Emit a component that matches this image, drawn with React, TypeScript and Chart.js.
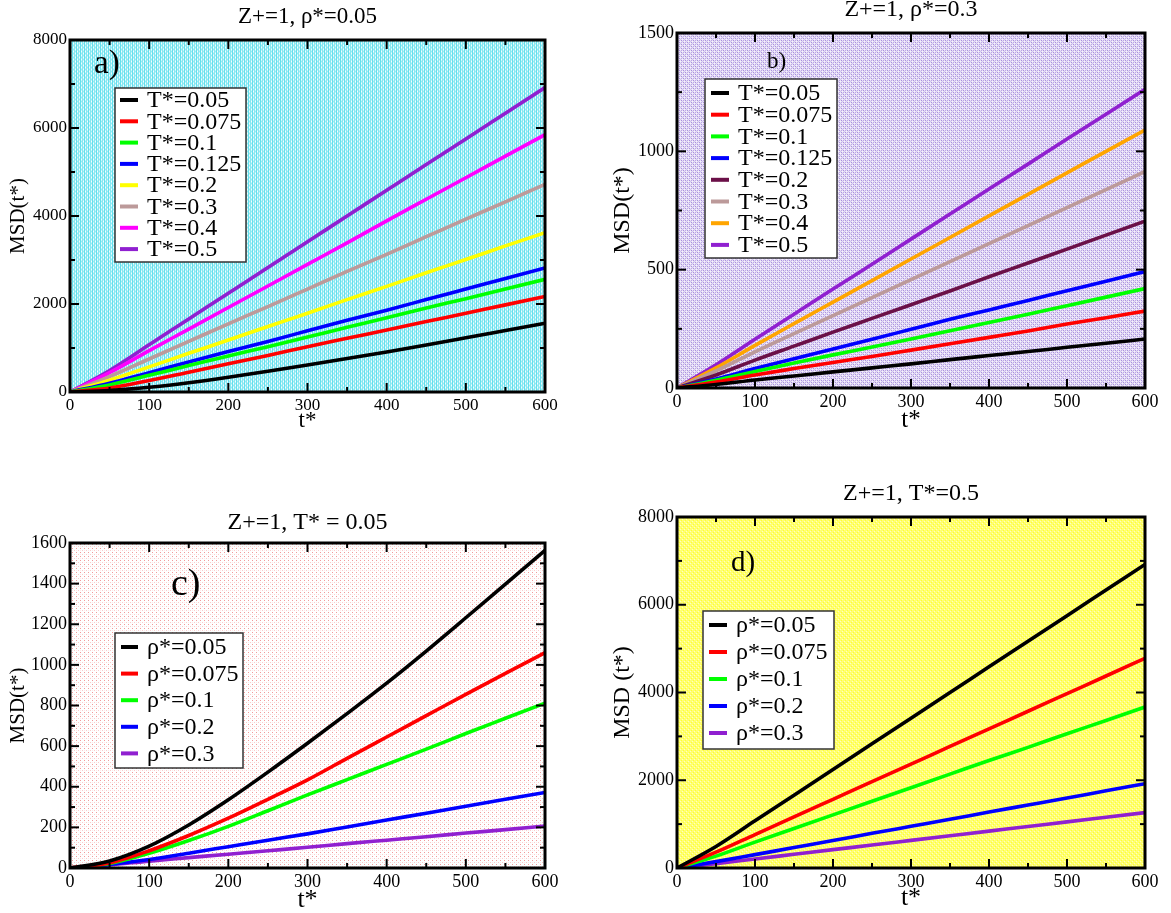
import { useEffect, useRef } from "react";
import { Chart, registerables } from "chart.js";
Chart.register(...registerables);

const SERIF = '"Liberation Serif", "Times New Roman", serif';

// ---------- data ----------
const T_STAR = [0, 50, 100, 150, 200, 250, 300, 350, 400, 450, 500, 550, 600];

const LABELS_T = ["T*=0.05", "T*=0.075", "T*=0.1", "T*=0.125", "T*=0.2", "T*=0.3", "T*=0.4", "T*=0.5"];
const LABELS_RHO = ["ρ*=0.05", "ρ*=0.075", "ρ*=0.1", "ρ*=0.2", "ρ*=0.3"];

// a) rho*=0.05
const A_T005 = [0, 35, 108, 212, 336, 472, 614, 760, 910, 1068, 1232, 1398, 1564];
const A_T0075 = [0, 90, 260, 450, 640, 830, 1030, 1220, 1410, 1600, 1790, 1980, 2170];
const A_T01 = [0, 160, 380, 600, 820, 1030, 1250, 1470, 1690, 1910, 2120, 2340, 2560];
const A_T0125 = [0, 200, 440, 680, 920, 1150, 1390, 1630, 1860, 2100, 2340, 2580, 2820];
const A_T02 = [0, 270, 570, 880, 1180, 1490, 1790, 2100, 2400, 2710, 3010, 3320, 3620];
const A_T03 = [0, 350, 750, 1150, 1550, 1940, 2340, 2740, 3130, 3530, 3930, 4320, 4720];
const A_T04 = [0, 440, 940, 1430, 1920, 2410, 2900, 3390, 3890, 4380, 4870, 5360, 5850];
const A_T05 = [0, 490, 1075, 1660, 2245, 2830, 3415, 4000, 4585, 5170, 5750, 6335, 6920];

// b) rho*=0.3
const B_T005 = [0, 15, 34, 51, 68, 85, 102, 120, 137, 154, 172, 189, 207];
const B_T0075 = [0, 25, 55, 82, 108, 133, 160, 187, 214, 241, 270, 297, 325];
const B_T01 = [0, 33, 70, 106, 140, 173, 207, 242, 277, 312, 348, 384, 420];
const B_T0125 = [0, 38, 82, 124, 165, 206, 248, 290, 330, 370, 411, 451, 492];
const B_T02 = [0, 55, 118, 177, 236, 294, 352, 410, 470, 528, 587, 646, 705];
const B_T03 = [0, 72, 153, 230, 306, 382, 458, 534, 610, 686, 762, 838, 915];
const B_T04 = [0, 85, 180, 272, 363, 454, 545, 636, 727, 818, 909, 1000, 1090];
const B_T05 = [0, 98, 206, 312, 418, 523, 629, 735, 841, 946, 1052, 1157, 1262];

// c) T*=0.05
const C_R005 = [0, 35, 108, 212, 336, 472, 614, 760, 910, 1068, 1232, 1398, 1564];
const C_R0075 = [0, 25, 85, 160, 245, 338, 434, 540, 645, 750, 855, 958, 1060];
const C_R01 = [0, 22, 72, 135, 205, 282, 360, 435, 510, 585, 662, 737, 812];
const C_R02 = [0, 18, 42, 73, 105, 137, 168, 202, 236, 270, 304, 338, 372];
const C_R03 = [0, 15, 34, 51, 68, 85, 102, 120, 137, 154, 172, 189, 207];

// d) T*=0.5
const D_R005 = [0, 490, 1075, 1660, 2245, 2830, 3415, 4000, 4585, 5170, 5750, 6335, 6920];
const D_R0075 = [0, 360, 763, 1165, 1566, 1967, 2369, 2770, 3172, 3573, 3975, 4376, 4780];
const D_R01 = [0, 270, 590, 900, 1210, 1520, 1830, 2140, 2450, 2750, 3060, 3360, 3670];
const D_R02 = [0, 145, 305, 465, 625, 790, 950, 1110, 1275, 1435, 1595, 1760, 1920];
const D_R03 = [0, 98, 206, 312, 418, 523, 629, 735, 841, 946, 1052, 1157, 1262];

const COLORS_A = ["#000000", "#ff0000", "#00ff00", "#0000ff", "#ffff00", "#bc9a9a", "#ff00ff", "#9020d0"];
const COLORS_B = ["#000000", "#ff0000", "#00ff00", "#0000ff", "#6b1048", "#bc9a9a", "#ffa500", "#9020d0"];
const COLORS_CD = ["#000000", "#ff0000", "#00ff00", "#0000ff", "#9020d0"];

// ---------- panel layout / style ----------
type PanelCfg = {
  left: number; top: number; w: number; h: number;
  area: { l: number; r: number; t: number; b: number };
  yMax: number; yStep: number;
  title: string; titleY: number; titleSize: number;
  letter: string; letterX: number; letterY: number; letterSize: number;
  legend: { x: number; y: number; w: number; h: number; row0: number; step: number; lx0: number; lx1: number; tx: number; size: number };
  ylabel: string; ylabelX: number; ylabelSize: number;
  xlabelY: number; xlabelSize: number;
  tickSize: number;
  bg: string;
  series: number[][]; labels: string[]; colors: string[];
};

const PANELS: PanelCfg[] = [
  {
    left: 0, top: 0, w: 585, h: 460,
    area: { l: 70, r: 545, t: 40, b: 392 },
    yMax: 8000, yStep: 2000,
    title: "Z+=1, ρ*=0.05", titleY: 17, titleSize: 23,
    letter: "a)", letterX: 94, letterY: 64, letterSize: 33,
    legend: { x: 115, y: 88, w: 131, h: 174, row0: 100, step: 21.3, lx0: 120, lx1: 138, tx: 147, size: 24 },
    ylabel: "MSD(t*)", ylabelX: 18, ylabelSize: 21,
    xlabelY: 421, xlabelSize: 23,
    tickSize: 17,
    bg: "a",
    series: [A_T005, A_T0075, A_T01, A_T0125, A_T02, A_T03, A_T04, A_T05], labels: LABELS_T, colors: COLORS_A,
  },
  {
    left: 585, top: 0, w: 586, h: 460,
    area: { l: 92, r: 560, t: 33, b: 388 },
    yMax: 1500, yStep: 500,
    title: "Z+=1, ρ*=0.3", titleY: 10, titleSize: 24,
    letter: "b)", letterX: 182, letterY: 62, letterSize: 23,
    legend: { x: 120, y: 79, w: 132, h: 179, row0: 93, step: 21.7, lx0: 126, lx1: 144, tx: 153, size: 24 },
    ylabel: "MSD(t*)", ylabelX: 38, ylabelSize: 24,
    xlabelY: 420, xlabelSize: 25,
    tickSize: 18,
    bg: "b",
    series: [B_T005, B_T0075, B_T01, B_T0125, B_T02, B_T03, B_T04, B_T05], labels: LABELS_T, colors: COLORS_B,
  },
  {
    left: 0, top: 460, w: 585, h: 453,
    area: { l: 70, r: 545, t: 83, b: 408 },
    yMax: 1600, yStep: 200,
    title: "Z+=1, T* = 0.05", titleY: 63, titleSize: 24,
    letter: "c)", letterX: 171, letterY: 125, letterSize: 38,
    legend: { x: 115, y: 173, w: 128, h: 135, row0: 187, step: 26.6, lx0: 121, lx1: 138, tx: 147, size: 24 },
    ylabel: "MSD(t*)", ylabelX: 18, ylabelSize: 21,
    xlabelY: 440, xlabelSize: 26,
    tickSize: 18,
    bg: "c",
    series: [C_R005, C_R0075, C_R01, C_R02, C_R03], labels: LABELS_RHO, colors: COLORS_CD,
  },
  {
    left: 585, top: 460, w: 586, h: 453,
    area: { l: 92, r: 560, t: 57, b: 408 },
    yMax: 8000, yStep: 2000,
    title: "Z+=1, T*=0.5", titleY: 34, titleSize: 24,
    letter: "d)", letterX: 146, letterY: 103, letterSize: 29,
    legend: { x: 118, y: 151, w: 131, h: 138, row0: 165, step: 27, lx0: 124, lx1: 142, tx: 151, size: 24 },
    ylabel: "MSD (t*)", ylabelX: 38, ylabelSize: 24,
    xlabelY: 438, xlabelSize: 26,
    tickSize: 18,
    bg: "d",
    series: [D_R005, D_R0075, D_R01, D_R02, D_R03], labels: LABELS_RHO, colors: COLORS_CD,
  },
];

function makePattern(ctx: CanvasRenderingContext2D, kind: string): CanvasPattern | string {
  const c = document.createElement("canvas");
  c.width = 4; c.height = 4;
  const g = c.getContext("2d");
  if (!g) return "#fff";
  const px = (x: number, y: number, col: string) => { g.fillStyle = col; g.fillRect(x, y, 1, 1); };
  if (kind === "a") {
    g.fillStyle = "#c8f4f8"; g.fillRect(0, 0, 4, 4);
    for (let y = 0; y < 4; y++) { px(0, y, "#64e0ee"); px(2, y, "#86e8f2"); }
    px(1, 1, "#98ebf4"); px(3, 3, "#98ebf4"); px(1, 3, "#f4fdfe"); px(3, 1, "#f4fdfe");
  } else if (kind === "b") {
    g.fillStyle = "#e6def6"; g.fillRect(0, 0, 4, 4);
    px(0, 0, "#a890dc"); px(2, 0, "#bca8e6"); px(0, 2, "#bca8e6"); px(2, 2, "#a890dc");
    px(1, 1, "#d2c6f0"); px(3, 3, "#d2c6f0"); px(1, 3, "#f6f2fc"); px(3, 1, "#f6f2fc");
  } else if (kind === "c") {
    g.fillStyle = "#ffffff"; g.fillRect(0, 0, 4, 4);
    px(0, 0, "#f29a9a"); px(2, 2, "#f9cccc"); px(0, 2, "#fdeaea");
  } else {
    g.fillStyle = "#ffff70"; g.fillRect(0, 0, 4, 4);
    px(0, 0, "#ffff30"); px(2, 2, "#ffff30"); px(1, 3, "#ffffc0"); px(3, 1, "#ffffc0");
  }
  return ctx.createPattern(c, "repeat") || "#fff";
}

const decor = {
  id: "decor",
  beforeDatasetsDraw(chart: any, _args: any, opts: any) {
    const cfg: PanelCfg = opts.cfg;
    const { ctx, chartArea: a } = chart;
    ctx.save();
    ctx.fillStyle = makePattern(ctx, cfg.bg);
    ctx.fillRect(a.left, a.top, a.right - a.left, a.bottom - a.top);
    ctx.restore();
  },
  afterDatasetsDraw(chart: any, _args: any, opts: any) {
    const cfg: PanelCfg = opts.cfg;
    const { ctx, chartArea: a, scales } = chart;
    const xs = scales.x, ys = scales.y;
    ctx.save();
    ctx.strokeStyle = "#000";
    ctx.lineWidth = 2;
    const seg = (x0: number, y0: number, x1: number, y1: number) => {
      ctx.beginPath(); ctx.moveTo(x0, y0); ctx.lineTo(x1, y1); ctx.stroke();
    };
    for (let v = 0; v <= 600; v += 50) {
      const p = xs.getPixelForValue(v);
      const len = v % 100 === 0 ? 9 : 5;
      seg(p, a.bottom, p, a.bottom - len);
      seg(p, a.top, p, a.top + len);
    }
    const half = cfg.yStep / 2;
    for (let v = 0; v <= cfg.yMax + 1e-6; v += half) {
      const p = ys.getPixelForValue(v);
      const major = Math.abs(v / cfg.yStep - Math.round(v / cfg.yStep)) < 1e-6;
      const len = major ? 9 : 5;
      seg(a.left, p, a.left + len, p);
      seg(a.right, p, a.right - len, p);
    }
    ctx.lineWidth = 3;
    ctx.strokeRect(a.left, a.top, a.right - a.left, a.bottom - a.top);

    // panel letter
    ctx.fillStyle = "#000";
    ctx.textBaseline = "middle";
    ctx.textAlign = "left";
    ctx.font = `${cfg.letterSize}px ${SERIF}`;
    ctx.fillText(cfg.letter, cfg.letterX, cfg.letterY);

    // legend
    const L = cfg.legend;
    ctx.fillStyle = "#ffffff";
    ctx.fillRect(L.x, L.y, L.w, L.h);
    ctx.strokeStyle = "#333";
    ctx.lineWidth = 1.5;
    ctx.strokeRect(L.x, L.y, L.w, L.h);
    ctx.font = `${L.size}px ${SERIF}`;
    chart.data.datasets.forEach((ds: any, i: number) => {
      const yy = L.row0 + i * L.step;
      ctx.strokeStyle = ds.borderColor;
      ctx.lineWidth = 4;
      seg(L.lx0, yy, L.lx1, yy);
      ctx.fillStyle = "#000";
      ctx.fillText(ds.label, L.tx, yy + 1);
    });

    // title
    const cx = (a.left + a.right) / 2;
    ctx.textAlign = "center";
    ctx.font = `${cfg.titleSize}px ${SERIF}`;
    ctx.fillText(cfg.title, cx, cfg.titleY);

    // x label
    ctx.font = `${cfg.xlabelSize}px ${SERIF}`;
    ctx.fillText("t*", cx, cfg.xlabelY);

    // y label
    ctx.save();
    ctx.translate(cfg.ylabelX, (a.top + a.bottom) / 2);
    ctx.rotate(-Math.PI / 2);
    ctx.font = `${cfg.ylabelSize}px ${SERIF}`;
    ctx.fillText(cfg.ylabel, 0, 0);
    ctx.restore();

    ctx.restore();
  },
};

function Panel({ cfg }: { cfg: PanelCfg }) {
  const ref = useRef<HTMLCanvasElement | null>(null);
  useEffect(() => {
    if (!ref.current) return;
    const yW = cfg.area.l;
    const xH = cfg.h - cfg.area.b;
    const chart = new Chart(ref.current, {
      type: "line",
      data: {
        datasets: cfg.series.map((vals, i) => ({
          label: cfg.labels[i],
          data: T_STAR.map((t, j) => ({ x: t, y: vals[j] })),
          borderColor: cfg.colors[i],
          backgroundColor: cfg.colors[i],
          borderWidth: 3.6,
          pointRadius: 0,
          fill: false,
          tension: 0.4,
          cubicInterpolationMode: "monotone",
        })),
      },
      options: {
        animation: false,
        responsive: false,
        devicePixelRatio: 1,
        layout: { padding: { left: 0, top: cfg.area.t, right: cfg.w - cfg.area.r, bottom: 0 } },
        plugins: {
          legend: { display: false },
          title: { display: false },
          tooltip: { enabled: false },
          decor: { cfg },
        } as any,
        scales: {
          x: {
            type: "linear",
            min: 0, max: 600,
            grid: { display: false, drawTicks: false },
            border: { display: false },
            ticks: {
              stepSize: 100, padding: 3, color: "#000",
              font: { family: SERIF, size: cfg.tickSize },
              callback: (v: any) => String(v),
              maxRotation: 0,
            },
            afterFit: (s: any) => { s.height = xH; },
          },
          y: {
            type: "linear",
            min: 0, max: cfg.yMax,
            grid: { display: false, drawTicks: false },
            border: { display: false },
            ticks: {
              stepSize: cfg.yStep, padding: 3, color: "#000",
              font: { family: SERIF, size: cfg.tickSize },
              callback: (v: any) => String(v),
            },
            afterFit: (s: any) => { s.width = yW; },
          },
        },
      },
      plugins: [decor as any],
    });
    return () => chart.destroy();
  }, [cfg]);
  return (
    <canvas
      ref={ref}
      width={cfg.w}
      height={cfg.h}
      style={{ position: "absolute", left: cfg.left, top: cfg.top, width: cfg.w, height: cfg.h }}
    />
  );
}

export default function App() {
  return (
    <div style={{ position: "absolute", left: 0, top: 0, width: 1171, height: 913, background: "#fff" }}>
      {PANELS.map((p, i) => (
        <Panel key={i} cfg={p} />
      ))}
    </div>
  );
}
